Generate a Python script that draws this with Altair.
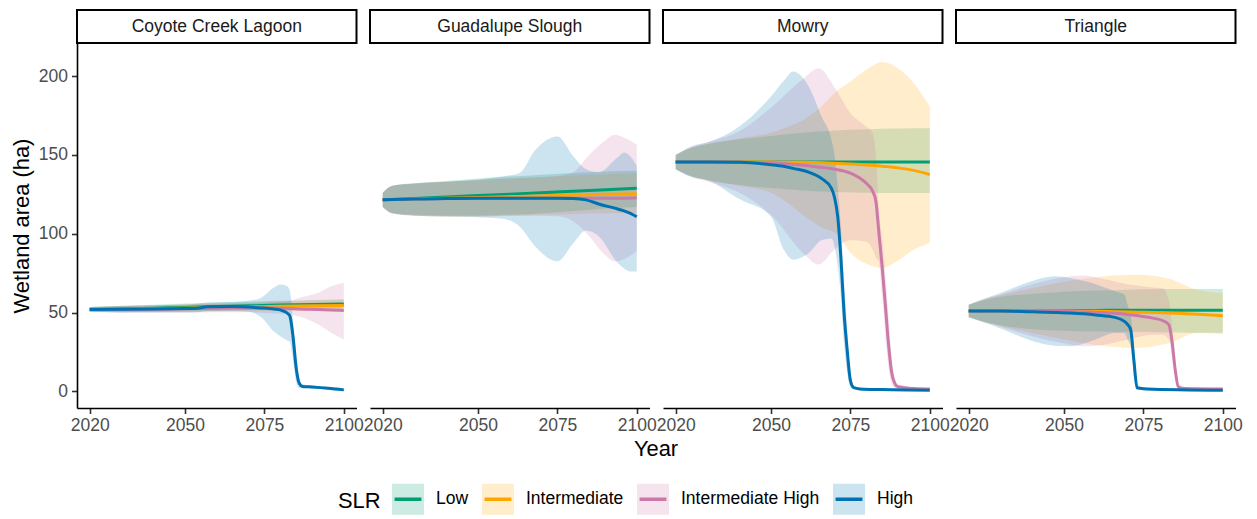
import altair as alt
import pandas as pd

# ---- categories and styling ----
SITES = ["Coyote Creek Lagoon", "Guadalupe Slough", "Mowry", "Triangle"]
SCENARIOS = ["Low", "Intermediate", "Intermediate High", "High"]
LINE_COLORS = ["#009E73", "#FFA500", "#CC79A7", "#0072B2"]
RIBBON_COLORS = [
    "rgba(0,158,115,0.2)",
    "rgba(255,165,0,0.2)",
    "rgba(204,121,167,0.2)",
    "rgba(0,114,178,0.2)",
]
X_TICKS = [2020, 2050, 2075, 2100]
Y_TICKS = [0, 50, 100, 150, 200]

# ---- projections: (year, mean, lower, upper) in ha ----
COYOTE_LOW = [
    (2020, 52.0, 50.5, 53.5), (2030, 52.3, 50.3, 54.3), (2040, 52.8, 50.5, 55.0),
    (2050, 53.3, 50.8, 55.8), (2060, 53.8, 51.2, 56.4), (2070, 54.3, 51.6, 57.0),
    (2080, 54.8, 52.0, 57.5), (2090, 55.2, 52.3, 58.0), (2100, 55.5, 52.5, 58.5),
]
COYOTE_INT = [
    (2020, 52.0, 50.5, 53.5), (2030, 52.2, 50.2, 54.2), (2040, 52.5, 50.3, 54.7),
    (2050, 52.8, 50.4, 55.2), (2060, 53.2, 50.6, 55.8), (2070, 53.6, 50.9, 56.3),
    (2080, 54.0, 51.0, 57.0), (2090, 54.3, 51.0, 57.6), (2100, 54.5, 50.8, 58.2),
]
COYOTE_IH = [
    (2020, 52.0, 50.5, 53.5), (2030, 52.0, 50.0, 54.0), (2040, 52.2, 50.0, 54.4),
    (2050, 52.5, 50.0, 55.0), (2060, 52.8, 50.2, 55.5), (2070, 53.0, 50.2, 56.0),
    (2078, 53.0, 49.5, 56.5), (2083, 52.6, 49.0, 57.5), (2086, 52.3, 47.5, 59.5),
    (2092, 52.0, 42.4, 62.6), (2096, 51.7, 37.3, 66.7), (2100, 51.3, 33.0, 69.0),
]
COYOTE_HIGH = [
    (2020, 52.0, 50.5, 53.5), (2030, 52.1, 50.0, 54.2), (2040, 52.3, 50.0, 54.6),
    (2050, 52.6, 50.0, 55.2), (2054, 52.8, 50.2, 55.6), (2057, 53.7, 51.0, 56.4),
    (2065, 53.8, 51.0, 56.8), (2070, 53.5, 50.5, 57.5), (2074, 53.0, 47.0, 59.5),
    (2078, 52.3, 38.0, 66.0), (2080, 51.7, 35.0, 67.8), (2082, 50.0, 32.5, 67.0),
    (2083, 48.0, 31.5, 64.0), (2084, 35.0, 20.0, 45.0), (2085, 15.0, 6.0, 25.0),
    (2086, 5.0, 2.0, 8.0), (2087, 3.2, 2.0, 4.5), (2090, 2.8, 1.8, 3.8),
    (2095, 2.0, 1.0, 3.0), (2100, 1.0, 0.0, 2.0),
]

GUADALUPE_LOW = [
    (2020, 121.6, 117.0, 126.0), (2023, 121.8, 113.0, 130.5), (2030, 122.4, 112.0, 132.0),
    (2040, 123.3, 111.5, 133.5), (2050, 124.2, 111.5, 135.0), (2060, 125.1, 112.0, 136.3),
    (2070, 126.0, 113.0, 137.5), (2080, 127.0, 114.5, 138.5), (2090, 128.0, 116.0, 139.5),
    (2100, 128.8, 117.0, 140.0),
]
GUADALUPE_INT = [
    (2020, 121.6, 117.0, 126.0), (2023, 121.7, 113.0, 130.5), (2030, 122.0, 111.5, 131.8),
    (2040, 122.5, 111.0, 133.0), (2050, 123.0, 111.0, 134.0), (2060, 123.5, 111.5, 135.0),
    (2070, 124.0, 112.0, 136.0), (2080, 124.5, 112.5, 137.0), (2090, 125.0, 113.0, 137.8),
    (2100, 125.4, 113.0, 138.5),
]
GUADALUPE_IH = [
    (2020, 121.6, 117.0, 126.0), (2023, 121.7, 113.0, 130.5), (2030, 122.0, 111.5, 131.8),
    (2040, 122.3, 111.0, 133.0), (2050, 122.5, 111.0, 134.0), (2060, 122.6, 111.5, 135.0),
    (2070, 122.6, 111.5, 136.0), (2076, 122.6, 111.0, 137.0), (2080, 122.6, 108.0, 139.0),
    (2085, 122.6, 98.5, 150.0), (2090, 122.6, 86.5, 159.0), (2093, 122.6, 82.5, 162.8),
    (2096, 122.6, 84.0, 161.0), (2100, 122.8, 89.0, 156.4),
]
GUADALUPE_HIGH = [
    (2020, 121.6, 117.0, 126.0), (2023, 121.7, 113.0, 130.5), (2030, 122.0, 111.5, 132.0),
    (2040, 122.4, 111.0, 133.0), (2050, 122.5, 110.5, 134.5), (2058, 122.5, 109.5, 136.5),
    (2063, 122.5, 104.7, 138.4), (2068, 122.5, 92.0, 153.0), (2075, 122.5, 82.5, 161.7),
    (2080, 122.4, 94.0, 149.2), (2084, 121.5, 102.0, 141.0), (2088, 118.9, 98.4, 139.1),
    (2094, 115.7, 81.5, 148.5), (2096, 114.5, 78.0, 151.6), (2098, 113.0, 76.0, 149.0),
    (2100, 110.8, 76.0, 143.0),
]

MOWRY_LOW = [
    (2020, 145.5, 141.0, 150.0), (2025, 145.5, 136.5, 154.5), (2030, 145.5, 134.0, 157.0),
    (2040, 145.5, 131.0, 160.0), (2050, 145.5, 129.0, 162.0), (2060, 145.5, 127.5, 164.0),
    (2070, 145.5, 126.5, 165.5), (2080, 145.5, 126.0, 166.3), (2090, 145.5, 125.8, 166.8),
    (2100, 145.5, 125.8, 167.0),
]
MOWRY_INT = [
    (2020, 145.5, 141.0, 150.0), (2025, 145.5, 136.5, 154.5), (2030, 145.5, 134.0, 157.0),
    (2040, 145.5, 130.5, 160.5), (2050, 145.5, 126.0, 164.0), (2055, 145.4, 120.0, 167.5),
    (2060, 145.3, 112.0, 172.0), (2066, 145.0, 104.0, 181.0), (2071, 144.6, 99.4, 191.0),
    (2075, 144.2, 88.0, 196.5), (2080, 143.6, 81.0, 204.0), (2085, 142.8, 78.3, 209.0),
    (2090, 141.8, 83.0, 205.0), (2095, 140.2, 90.0, 195.5), (2100, 137.5, 94.2, 180.7),
]
MOWRY_IH = [
    (2020, 145.5, 141.0, 150.0), (2025, 145.5, 136.0, 155.0), (2030, 145.5, 133.0, 158.0),
    (2040, 145.4, 126.0, 165.0), (2050, 145.0, 112.0, 180.0), (2060, 143.5, 88.0, 198.0),
    (2065, 142.3, 80.5, 205.0), (2070, 141.0, 90.0, 193.0), (2075, 138.5, 96.0, 176.5),
    (2080, 132.0, 95.0, 168.0), (2082, 127.0, 90.0, 164.0), (2083, 121.0, 85.0, 150.0),
    (2084, 100.0, 82.0, 115.0), (2085, 79.0, 60.0, 97.0), (2086, 55.0, 36.0, 74.0),
    (2087, 30.0, 15.0, 48.0), (2088, 12.0, 5.0, 22.0), (2089, 5.0, 2.0, 8.0),
    (2090, 3.0, 1.5, 4.5), (2095, 1.8, 1.0, 2.6), (2100, 1.5, 0.8, 2.2),
]
MOWRY_HIGH = [
    (2020, 145.5, 141.0, 150.0), (2025, 145.5, 136.0, 155.5), (2030, 145.5, 134.0, 158.0),
    (2040, 145.3, 122.0, 168.0), (2050, 143.8, 111.0, 187.0), (2054, 142.8, 90.0, 197.0),
    (2057, 141.5, 83.6, 203.0), (2062, 139.0, 88.0, 193.0), (2066, 135.0, 96.0, 174.0),
    (2069, 129.0, 97.0, 160.0), (2070, 123.0, 92.0, 150.0), (2071, 111.0, 80.0, 130.0),
    (2072, 85.0, 60.0, 105.0), (2073, 50.0, 30.0, 70.0), (2074, 26.0, 12.0, 40.0),
    (2075, 7.0, 3.0, 12.0), (2076, 2.5, 1.2, 4.0), (2078, 1.6, 0.8, 2.4),
    (2085, 1.2, 0.6, 1.8), (2100, 0.8, 0.3, 1.3),
]

TRIANGLE_LOW = [
    (2020, 51.0, 47.0, 55.0), (2025, 51.0, 44.0, 58.0), (2030, 51.1, 42.0, 60.0),
    (2040, 51.2, 39.5, 62.0), (2050, 51.3, 38.5, 63.3), (2060, 51.4, 38.0, 64.0),
    (2070, 51.5, 37.8, 64.5), (2080, 51.5, 37.5, 65.0), (2090, 51.5, 37.3, 65.0),
    (2100, 51.5, 37.2, 65.0),
]
TRIANGLE_INT = [
    (2020, 51.0, 47.0, 55.0), (2025, 51.0, 44.0, 58.5), (2030, 51.0, 41.5, 61.0),
    (2040, 51.0, 37.0, 65.5), (2050, 51.0, 33.0, 69.5), (2060, 50.8, 29.5, 72.5),
    (2073, 50.3, 27.7, 74.0), (2083, 49.8, 30.5, 71.5), (2092, 49.0, 37.0, 64.5),
    (2100, 48.0, 36.5, 62.5),
]
TRIANGLE_IH = [
    (2020, 51.0, 47.0, 55.0), (2025, 51.0, 44.0, 58.5), (2030, 51.0, 41.0, 61.5),
    (2040, 50.9, 35.0, 68.0), (2050, 50.7, 30.5, 72.5), (2056, 50.4, 28.7, 73.5),
    (2062, 50.0, 29.5, 71.5), (2070, 48.8, 33.0, 68.0), (2078, 46.5, 36.0, 66.0),
    (2081, 45.0, 36.0, 65.5), (2083, 42.4, 33.0, 58.0), (2084, 32.0, 22.0, 42.0),
    (2085, 14.0, 7.0, 22.0), (2086, 3.0, 1.5, 5.0), (2088, 1.8, 1.0, 2.6),
    (2100, 1.5, 0.8, 2.2),
]
TRIANGLE_HIGH = [
    (2020, 51.0, 47.0, 55.0), (2025, 51.0, 43.5, 59.0), (2030, 51.0, 40.0, 62.5),
    (2040, 50.5, 32.0, 70.0), (2047, 50.1, 29.0, 73.0), (2052, 49.7, 28.7, 72.0),
    (2060, 48.5, 33.0, 68.0), (2066, 47.0, 37.0, 63.5), (2069, 44.5, 37.0, 61.5),
    (2070, 42.5, 33.0, 55.0), (2071, 39.0, 28.0, 48.0), (2072, 20.0, 10.0, 30.0),
    (2073, 2.3, 1.0, 4.0), (2076, 1.6, 0.8, 2.4), (2100, 0.8, 0.3, 1.3),
]

SERIES = {
    "Coyote Creek Lagoon": [COYOTE_LOW, COYOTE_INT, COYOTE_IH, COYOTE_HIGH],
    "Guadalupe Slough": [GUADALUPE_LOW, GUADALUPE_INT, GUADALUPE_IH, GUADALUPE_HIGH],
    "Mowry": [MOWRY_LOW, MOWRY_INT, MOWRY_IH, MOWRY_HIGH],
    "Triangle": [TRIANGLE_LOW, TRIANGLE_INT, TRIANGLE_IH, TRIANGLE_HIGH],
}

rows = []
for site in SITES:
    for scenario, points in zip(SCENARIOS, SERIES[site]):
        for year, mean, lower, upper in points:
            rows.append(dict(site=site, SLR=scenario, year=year,
                             mean=mean, lower=lower, upper=upper))
df = pd.DataFrame(rows)

FONT = "Liberation Sans"
PANEL_W, PANEL_H, STRIP_H = 279.5, 365, 33
LEG_X, LEG_Y = 261, 438

# legend key: light box with the line drawn through it; the path starts with
# the line segment so the dash pattern strokes only that part
KEY_PATH = "M-0.84,0H0.84H1V-0.97H-1V0.97H1V0Z"
KEY_LINE_LEN = 2 * 0.84 * 16

# one legend shared by the ribbon fill and the line stroke
slr_legend = alt.Legend(
    title="SLR", orient="none", legendX=LEG_X, legendY=LEG_Y, direction="horizontal",
    titleOrient="left", titleFontSize=21.9, titleFont=FONT, titleFontWeight="normal",
    titleColor="black", titlePadding=9, titleAnchor="middle", titleBaseline="middle",
    labelFontSize=17.5, labelFont=FONT, labelColor="black", labelOffset=10,
    columnPadding=6, symbolSize=1024, symbolType=KEY_PATH, symbolStrokeWidth=3.5,
    symbolDash=[KEY_LINE_LEN, 2000],
)

x_enc = alt.X(
    "year:Q",
    scale=alt.Scale(domain=[2016, 2104], nice=False, zero=False),
    axis=alt.Axis(values=X_TICKS, format="d", title=None, labelFlush=False),
)
y_scale = alt.Scale(domain=[-10.5, 221], nice=False, zero=False)
y_axis = alt.Axis(values=Y_TICKS, title="Wetland area (ha)")

ribbons = alt.Chart().mark_area(interpolate="monotone").encode(
    x=x_enc,
    y=alt.Y("lower:Q", scale=y_scale, axis=y_axis),
    y2="upper:Q",
    fill=alt.Fill(
        "SLR:N",
        scale=alt.Scale(domain=SCENARIOS, range=RIBBON_COLORS),
        legend=slr_legend,
    ),
)

lines = alt.Chart().mark_line(interpolate="monotone", strokeWidth=3).encode(
    x=x_enc,
    y=alt.Y("mean:Q", scale=y_scale, axis=y_axis),
    stroke=alt.Stroke(
        "SLR:N",
        scale=alt.Scale(domain=SCENARIOS, range=LINE_COLORS),
        legend=slr_legend,
    ),
)

# facet strip: boxed label above each panel
strip_box = alt.Chart().transform_aggregate(n="count()", groupby=["site"]).mark_rect(
    fill="white", stroke="black", strokeWidth=2
).encode(
    x=alt.value(0), x2=alt.value(PANEL_W),
    y=alt.value(-STRIP_H), y2=alt.value(0),
)
strip_text = alt.Chart().transform_aggregate(n="count()", groupby=["site"]).mark_text(
    fontSize=17.5, font=FONT, color="#1A1A1A", align="center", baseline="middle"
).encode(
    x=alt.value(PANEL_W / 2), y=alt.value(-STRIP_H / 2), text="site:N",
)

panel = alt.layer(ribbons, lines, strip_box, strip_text).properties(
    width=PANEL_W, height=PANEL_H
)

chart = panel.facet(
    data=df,
    column=alt.Column(
        "site:N",
        sort=SITES,
        header=alt.Header(
            labels=False, title="Year", titleOrient="bottom", titleFontSize=21.9,
            titleFont=FONT, titleFontWeight="normal", titleColor="black",
            titlePadding=-5,
        ),
    ),
    spacing=13,
    bounds="flush",
).configure_axis(
    domainColor="black", domainWidth=1.6, tickColor="#333333", tickWidth=1.6,
    tickSize=5.5, labelColor="#4D4D4D", labelFontSize=17.5, labelFont=FONT,
    labelPadding=3, titleFont=FONT, titleFontSize=21.9, titleFontWeight="normal",
    titleColor="black", grid=False,
).configure_axisY(labelPadding=4, titlePadding=5).configure_view(
    stroke=None
).properties(
    background="white", padding={"left": 10, "top": 9, "right": 0, "bottom": 0}
)

chart.save("out.html", embed_options={"renderer": "svg", "actions": False})
